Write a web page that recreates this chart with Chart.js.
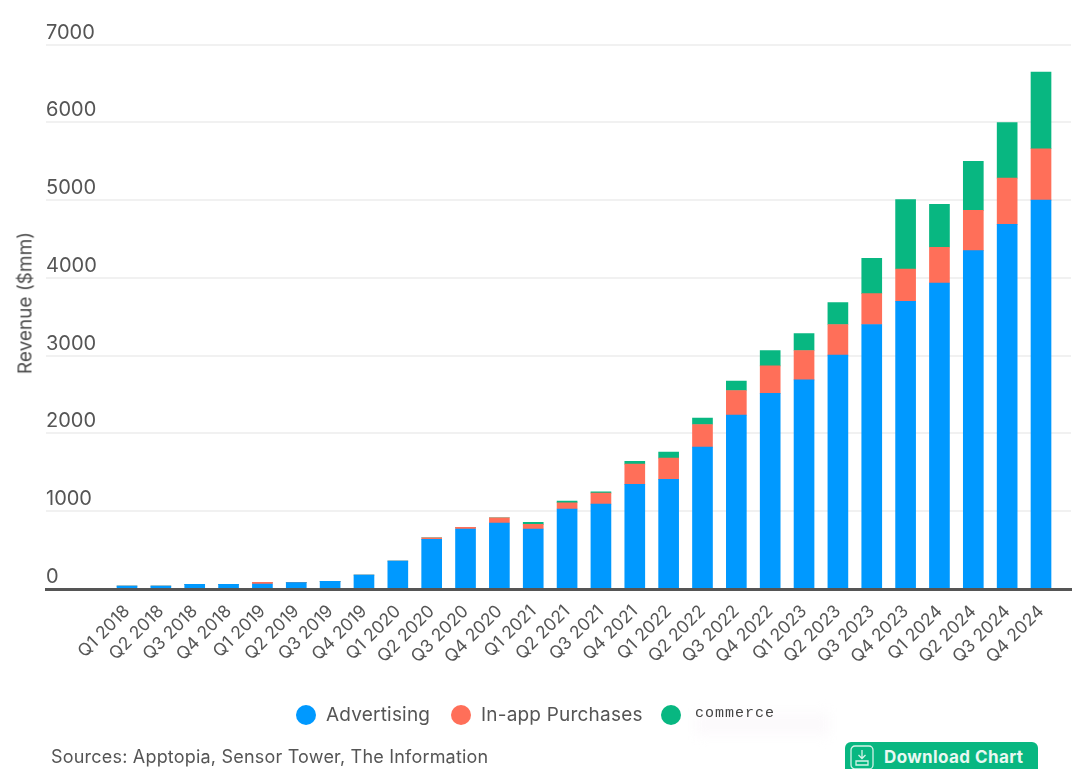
<!DOCTYPE html>
<html>
<head>
<meta charset="utf-8">
<script src="https://cdn.jsdelivr.net/npm/chart.js@4"></script>
<style>
  html, body { margin: 0; padding: 0; background: #fff; overflow: hidden; }
  #wrap { position: relative; width: 1080px; height: 769px; font-family: Inter, sans-serif; color: #555; }
  canvas { position: absolute; left: 0; top: 0; }
  .abs { position: absolute; white-space: nowrap; }
  #ytitle { left: 25px; top: 303px; font-size: 19px; color: #4d4d4d; transform: translate(-50%, -50%) rotate(-90deg); }
  .dot { position: absolute; width: 20px; height: 20px; border-radius: 50%; top: 705px; }
  .leg { position: absolute; top: 703px; font-size: 19px; line-height: 24px; letter-spacing: 0.2px; white-space: nowrap; }
  #sources { left: 51px; top: 746px; font-size: 18px; line-height: 22px; letter-spacing: 0.2px; }
  #smudge { left: 695px; top: 712px; width: 135px; height: 24px; background: #fcfafc; filter: blur(6px); }
  #btn { left: 845px; top: 742px; width: 193px; height: 40px; border-radius: 6px; background: #08b781; color: #e8f8f2;
         font-weight: 700; font-size: 17px; line-height: 30px; text-indent: 39px; letter-spacing: 0.4px; }
  #btn svg { position: absolute; left: 5px; top: 3px; }
</style>
</head>
<body>
<div id="wrap">
  <canvas id="chart" width="1080" height="769"></canvas>
  <div class="abs" id="ytitle">Revenue ($mm)</div>
  <div class="abs" id="smudge"></div>
  <div id="legend"></div>
  <div class="abs" id="sources">Sources: Apptopia, Sensor Tower, The Information</div>
  <div class="abs" id="btn">
    <svg width="24" height="25" viewBox="0 0 24 25" fill="none" stroke="#d5f3e8" stroke-width="1.3">
      <rect x="1" y="1" width="22" height="23" rx="4"/>
      <path d="M12 5v8M8.5 10l3.5 3.5 3.5-3.5M6 16h12v4H6z"/>
    </svg>Download Chart</div>
</div>
<script>
const quarters = ["Q1 2018","Q2 2018","Q3 2018","Q4 2018","Q1 2019","Q2 2019","Q3 2019","Q4 2019",
  "Q1 2020","Q2 2020","Q3 2020","Q4 2020","Q1 2021","Q2 2021","Q3 2021","Q4 2021",
  "Q1 2022","Q2 2022","Q3 2022","Q4 2022","Q1 2023","Q2 2023","Q3 2023","Q4 2023",
  "Q1 2024","Q2 2024","Q3 2024","Q4 2024"];
const advertising = [38,38,60,60,64,81,99,180,360,638,771,848,771,1028,1091,1345,1409,1824,2235,2514,2689,3006,3400,3699,3934,4350,4688,5000];
const inApp = [0,0,0,0,22,0,0,0,0,21,21,68,60,81,142,261,274,291,317,354,377,394,398,415,459,518,595,660];
const commerce = [0,0,0,0,0,0,0,0,0,0,0,0,26,21,17,34,77,82,120,198,218,283,454,891,552,630,712,985];
const yTicks = [0,1000,2000,3000,4000,5000,6000,7000];

const textColor = "#555555";
const points = arr => arr.map((v, i) => ({ x: i, y: v }));

new Chart(document.getElementById("chart"), {
  type: "bar",
  data: {
    datasets: [
      { label: "Advertising", data: points(advertising), backgroundColor: "#0099ff" },
      { label: "In-app Purchases", data: points(inApp), backgroundColor: "#ff6f59" },
      { label: "commerce", data: points(commerce), backgroundColor: "#08b781" }
    ]
  },
  options: {
    responsive: false,
    animation: false,
    devicePixelRatio: 1,
    layout: { padding: { left: 0, right: 9, top: 44.5, bottom: 80 } },
    datasets: { bar: { barThickness: 20 } },
    plugins: { legend: { display: false }, tooltip: { enabled: false } },
    scales: {
      x: {
        type: "linear",
        stacked: true,
        offset: false,
        // the band runs wider than the bars on the left, so the gridlines start under the labels
        min: -2.393,
        max: 27.886,
        grid: { display: false },
        border: { display: true, color: textColor, width: 3, z: 1 },
        afterBuildTicks: s => { s.ticks = quarters.map((q, i) => ({ value: i })); },
        afterFit: s => { s.height = 100; },
        ticks: {
          autoSkip: false,
          minRotation: 45,
          maxRotation: 45,
          padding: 4,
          color: textColor,
          font: { family: "Inter", size: 17.5 },
          callback: v => quarters[v]
        }
      },
      y: {
        stacked: true,
        min: 0,
        max: 7000,
        afterBuildTicks: s => { s.ticks = yTicks.map(v => ({ value: v })); },
        afterFit: s => { s.width = 46; },
        grid: { color: "#f1f1f1", lineWidth: 2, drawTicks: false },
        border: { display: false },
        ticks: {
          mirror: true,
          padding: 0,
          labelOffset: -12,
          color: textColor,
          font: { family: "Inter", size: 20 },
          callback: v => String(v)
        }
      }
    }
  }
});

// legend lives in html because the last entry is set in a different face
const legendItems = [
  { name: "Advertising", color: "#0099ff", dot: 296, text: 326 },
  { name: "In-app Purchases", color: "#ff6f59", dot: 451, text: 481 },
  { name: "commerce", color: "#08b781", dot: 661, text: 695, mono: true }
];
const legend = document.getElementById("legend");
legendItems.forEach(it => {
  const d = document.createElement("div");
  d.className = "dot";
  d.style.left = it.dot + "px";
  d.style.background = it.color;
  legend.appendChild(d);
  const t = document.createElement("div");
  t.className = "leg";
  t.style.left = it.text + "px";
  t.textContent = it.name;
  if (it.mono) {
    t.style.fontFamily = "'Liberation Mono', monospace";
    t.style.fontSize = "15px";
    t.style.letterSpacing = "1px";
    t.style.color = "#444";
    t.style.top = "702px";
  }
  legend.appendChild(t);
});
</script>
</body>
</html>
